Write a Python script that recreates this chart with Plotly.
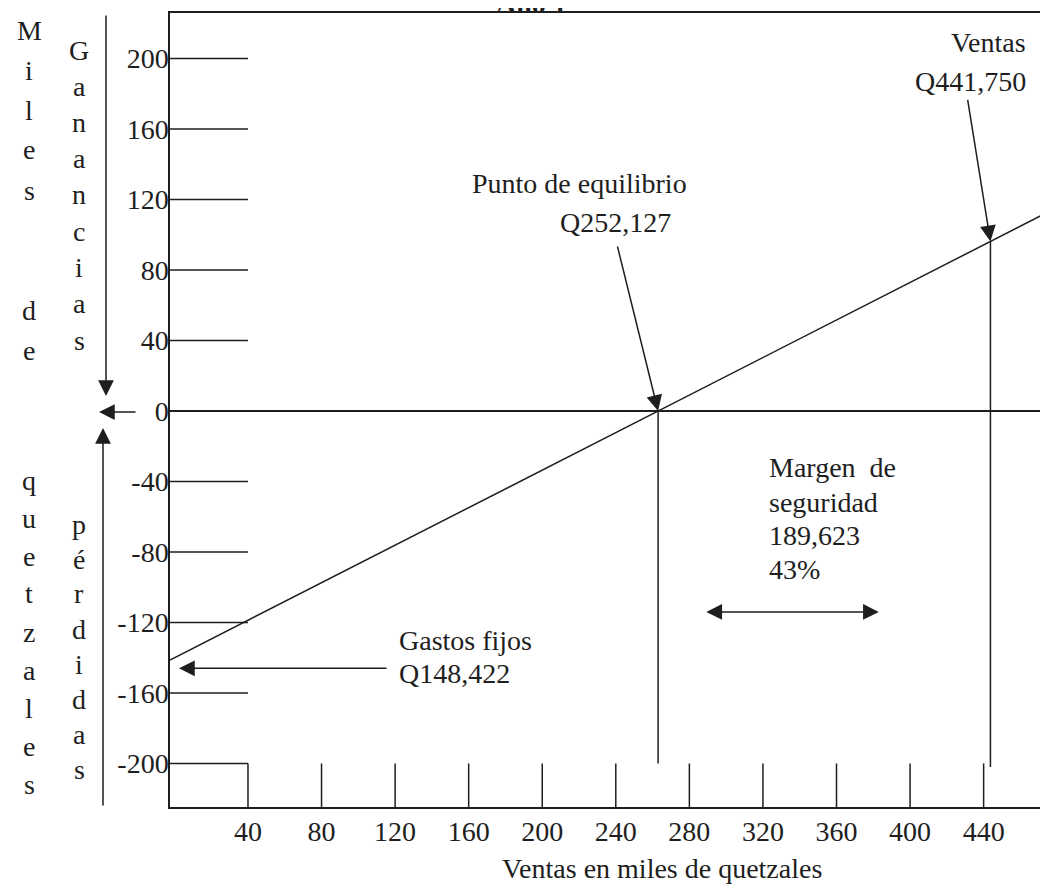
import plotly.graph_objects as go

# ---------------- data ----------------
x_ticks = [40, 80, 120, 160, 200, 240, 280, 320, 360, 400, 440]
y_ticks = [200, 160, 120, 80, 40, 0, -40, -80, -120, -160, -200]

line_x = [-2.4, 263, 480]          # ventas (miles de Q)
line_y = [-141.3, 0, 115.5]        # ganancia / pérdida (miles de Q)

breakeven_x = 263
breakeven_y = 0
ventas_x = 443.7
ventas_y = 96.2
gastos_fijos_y = -146
margin_from = 288.4
margin_to = 383
margin_y = -114

X_RANGE = [-2.4, 475]
Y_RANGE = [-224.7, 225.8]

FONT = "Liberation Serif"
INK = "#1e1e1e"
FS = 28

# page offset of the figure (default body margin of the html page)
OFF = 8
# plot area in page pixels
L, T, R, B = 170, 13, 1048, 807
W, H = 1048 - OFF, 884 - OFF


def px_x(p):
    return (p - L) / (R - L)


def px_y(p):
    return (B - p) / (B - T)


fig = go.Figure()

# profit/loss line
fig.add_trace(go.Scatter(x=line_x, y=line_y, mode="lines",
                         line=dict(color=INK, width=1.5), hoverinfo="skip"))

# vertical line at break-even point
fig.add_trace(go.Scatter(x=[breakeven_x, breakeven_x], y=[breakeven_y, -200],
                         mode="lines", line=dict(color=INK, width=1.5), hoverinfo="skip"))

# vertical line at sales
fig.add_trace(go.Scatter(x=[ventas_x, ventas_x], y=[ventas_y, -202],
                         mode="lines", line=dict(color=INK, width=1.5), hoverinfo="skip"))

# short horizontal tick lines on the y axis
hx, hy = [], []
for v in y_ticks:
    if v == 0:
        continue
    hx += [X_RANGE[0], x_ticks[0], None]
    hy += [v, v, None]
fig.add_trace(go.Scatter(x=hx, y=hy, mode="lines",
                         line=dict(color=INK, width=1.5), hoverinfo="skip"))

# short vertical tick lines on the x axis
vx, vy = [], []
for v in x_ticks:
    vx += [v, v, None]
    vy += [Y_RANGE[0], y_ticks[-1], None]
fig.add_trace(go.Scatter(x=vx, y=vy, mode="lines",
                         line=dict(color=INK, width=1.5), hoverinfo="skip"))

ann = []


def text(x, y, s, xanchor="center", yanchor="middle", align="center", size=FS):
    ann.append(dict(xref="paper", yref="paper", x=px_x(x), y=px_y(y), text=s,
                    showarrow=False, xanchor=xanchor, yanchor=yanchor, align=align,
                    font=dict(family=FONT, size=size, color=INK)))


def arrow_data(x, y, ax, ay, side="end"):
    ann.append(dict(xref="x", yref="y", x=x, y=y, ax=ax, ay=ay,
                    axref="pixel", ayref="pixel", text="", showarrow=True,
                    arrowhead=2, arrowsize=2.1, arrowwidth=1.5, arrowcolor=INK,
                    arrowside=side, standoff=0, startstandoff=0))


def arrow_paper(x, y, tx, ty):
    ann.append(dict(xref="paper", yref="paper", x=px_x(x), y=px_y(y),
                    ax=tx - x, ay=ty - y, axref="pixel", ayref="pixel", text="",
                    showarrow=True, arrowhead=2, arrowsize=2.1, arrowwidth=1.5,
                    arrowcolor=INK, standoff=0))


# title (cut off at the top, as in the original)
ann.append(dict(xref="paper", yref="paper", x=px_x(531), y=px_y(3), text="<b>Año 1</b>",
                showarrow=False, xanchor="center", yanchor="middle",
                font=dict(family=FONT, size=FS, color=INK)))

# labels
text(579, 184, "Punto de equilibrio")
text(615, 223, "Q252,127")
text(1028, 42, "Ventas", xanchor="right")
text(1028, 82, "Q441,750", xanchor="right")
text(397, 640, "Gastos fijos", xanchor="left")
text(397, 673, "Q148,422", xanchor="left")
text(767, 467, "Margen\u00a0 de", xanchor="left")
text(767, 502, "seguridad", xanchor="left")
text(767, 535, "189,623", xanchor="left")
text(767, 569, "43%", xanchor="left")
text(662, 868, "Ventas en miles de quetzales")

# arrows pointing to data
arrow_data(breakeven_x, breakeven_y, -41, -166)
arrow_data(ventas_x, ventas_y, -23, -143)
arrow_data(2.5, gastos_fijos_y, 209, 0)
arrow_data(margin_to, margin_y, -(margin_to - margin_from) * (R - L) / (X_RANGE[1] - X_RANGE[0]), 0,
           side="end+start")

# left decorations: vertical arrows
arrow_paper(106, 396, 106, 14)
arrow_paper(99, 412, 137, 412)
arrow_paper(103, 428, 103, 807)

# vertical letters
for k, ch in enumerate("Miles  de"):
    if ch != " ":
        text(29, 30 + 40 * k, ch)
for k, ch in enumerate("quetzales"):
    text(29, 480 + 38 * k, ch)
for k, ch in enumerate("Ganancias"):
    text(79, 50 + 36.25 * k, ch)
for k, ch in enumerate("pérdidas"):
    text(79, 524 + 35 * k, ch)

fig.update_layout(
    width=W, height=H,
    margin=dict(l=L - OFF, r=W - (R - OFF), t=T - OFF, b=H - (B - OFF), pad=0),
    paper_bgcolor="white", plot_bgcolor="white",
    showlegend=False,
    annotations=ann,
    font=dict(family=FONT, size=FS, color=INK),
)
fig.update_xaxes(range=X_RANGE, tickvals=x_ticks, ticktext=[str(v) for v in x_ticks],
                 showgrid=False, zeroline=False, showline=True, mirror=True,
                 linecolor=INK, linewidth=1.5, ticks="", ticklabelstandoff=-1,
                 tickfont=dict(family=FONT, size=FS, color=INK))
fig.update_yaxes(range=Y_RANGE, tickvals=y_ticks,
                 ticktext=[str(v) for v in y_ticks],
                 showgrid=False, zeroline=True, zerolinecolor=INK, zerolinewidth=1.5,
                 showline=True, mirror=False, linecolor=INK, linewidth=1.5, ticks="",
                 ticklabelstandoff=-6,
                 tickfont=dict(family=FONT, size=FS, color=INK))

fig.write_html("out.html")
